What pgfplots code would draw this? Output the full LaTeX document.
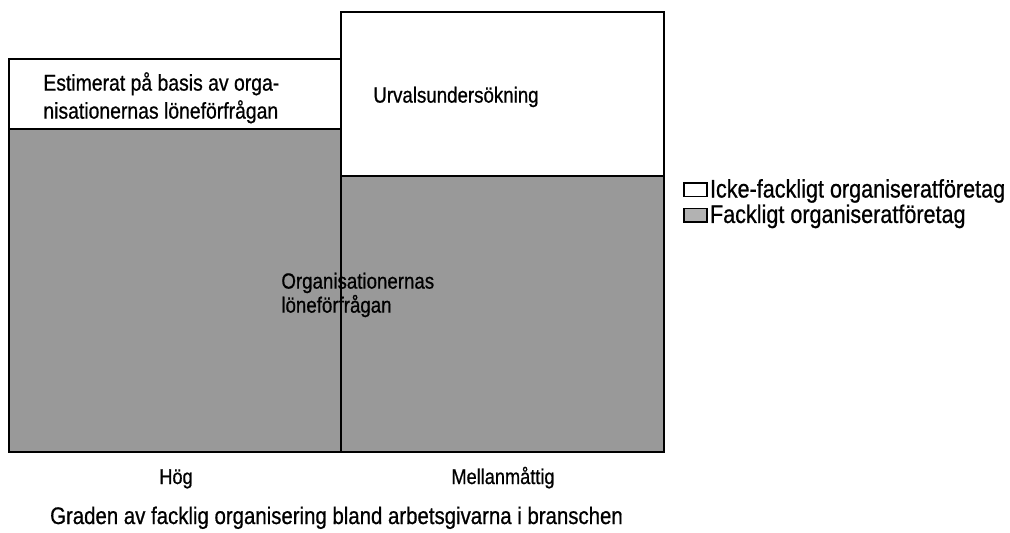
\documentclass[border=0pt]{standalone}
\usepackage{fontspec}
\setmainfont{Liberation Sans}[FakeStretch=0.85, FakeBold=0.7]
\usepackage{pgfplots}
\pgfplotsset{compat=1.18}
\begin{document}
\begin{tikzpicture}
% fixed page: 1 px of the reference = 0.5pt
\useasboundingbox (-4.5pt,-40pt) rectangle (500.5pt,226pt);
\begin{axis}[
    scale only axis,
    width=327.5pt,
    height=220pt,
    xmin=0, xmax=655,
    ymin=0, ymax=100,
    axis line style={draw=none},
    ytick=\empty,
    xtick={167,494},
    xticklabels={Hög, Mellanmåttig},
    major tick length=0pt,
    xticklabel style={font=\fontsize{10.7}{12}\selectfont, anchor=base, yshift=-16pt},
    xlabel={Graden av facklig organisering bland arbetsgivarna i branschen},
    xlabel style={font=\fontsize{12}{14}\selectfont, at={(axis description cs:0.5,0)}, anchor=base, yshift=-36pt},
    legend cell align=left,
    legend style={
        at={(axis description cs:1.029,0.567)},
        anchor=west,
        draw=none,
        fill=none,
        inner sep=0pt,
        font=\fontsize{12.7}{14}\selectfont,
        nodes={inner sep=1pt},
        row sep=0pt,
    },
    clip=false,
]

% total height of the bar (white part on top)
\addplot[ybar interval, fill=white, draw=black, line width=1pt,
    legend image code/.code={\draw[fill=white, draw=black, line width=0.8pt] (0pt,-3.3pt) rectangle (11.5pt,3.3pt);}]
    coordinates {(0,89.3) (332,100) (655,100)};
\addlegendentry{Icke-fackligt organiseratföretag}

% organised employers (grey part)
\addplot[ybar interval, fill=black!40, draw=black, line width=1pt,
    legend image code/.code={\draw[fill=black!30, draw=black, line width=0.8pt] (0pt,-3.3pt) rectangle (11.5pt,3.3pt);}]
    coordinates {(0,73.4) (332,62.7) (655,62.7)};
\addlegendentry{Fackligt organiseratföretag}

\node[anchor=west, align=left, inner sep=0pt, font=\fontsize{11.4}{14}\selectfont]
    at (axis cs:34,80.5) {Estimerat på basis av orga-\\nisationernas löneförfrågan};
\node[inner sep=0pt, font=\fontsize{11}{14}\selectfont]
    at (axis cs:447,80.7) {Urvalsundersökning};
\node[anchor=west, align=left, inner sep=0pt, font=\fontsize{11}{12}\selectfont]
    at (axis cs:272,35.7) {Organisationernas\\löneförfrågan};
\end{axis}
\end{tikzpicture}
\end{document}
